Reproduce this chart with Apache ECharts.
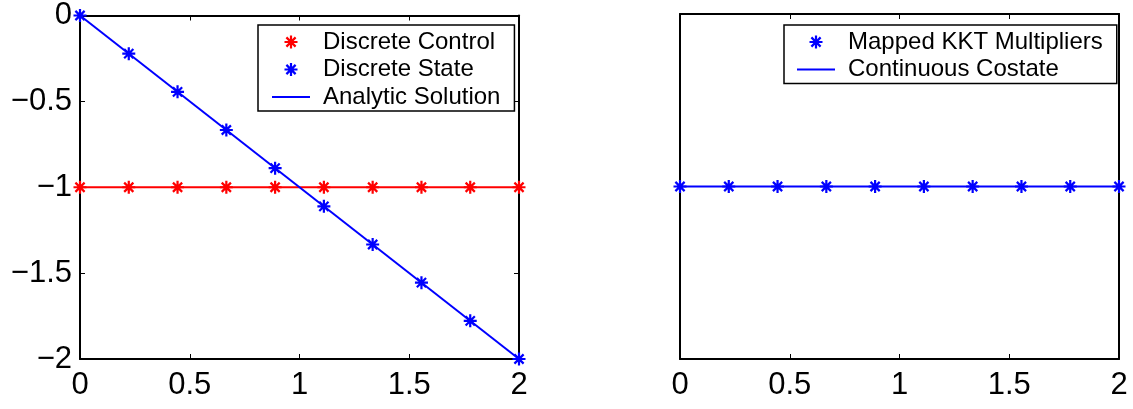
<!DOCTYPE html>
<html>
<head>
<meta charset="utf-8">
<script src="https://cdn.jsdelivr.net/npm/echarts@6/dist/echarts.min.js"></script>
<style>
html, body { margin: 0; padding: 0; background: #fff; }
#chart { width: 1133px; height: 409px; }
</style>
</head>
<body>
<div id="chart"></div>
<script>
// grid points (10 nodes on [0, 2])
var nodes = [0, 0.2222, 0.4444, 0.6667, 0.8889, 1.1111, 1.3333, 1.5556, 1.7778, 2];
var controlVals = [-1, -1, -1, -1, -1, -1, -1, -1, -1, -1];
var stateVals = [0, -0.2222, -0.4444, -0.6667, -0.8889, -1.1111, -1.3333, -1.5556, -1.7778, -2];
var analyticX = [0, 2];
var analyticVals = [0, -2];
var kktVals = [-1, -1, -1, -1, -1, -1, -1, -1, -1, -1];
var costateX = [0, 2];
var costateVals = [-1, -1];
var xTicks = [0, 0.5, 1, 1.5, 2];
var yTicks = [-2, -1.5, -1, -0.5, 0];

function pairs(xs, ys) {
    return xs.map(function (x, i) { return [x, ys[i]]; });
}

var FONT = 'Liberation Sans, Arial, Helvetica, sans-serif';
// matlab style '*' marker
var STAR = 'path://M-0.85,-5L0.85,-5L0.85,5L-0.85,5Z' +
    'M-5,-0.85L5,-0.85L5,0.85L-5,0.85Z' +
    'M-2.93,-4.14L4.14,2.93L2.93,4.14L-4.14,-2.93Z' +
    'M-4.14,2.93L2.93,-4.14L4.14,-2.93L-2.93,4.14Z';
var LINE_ICON = 'path://M0,0H38V2H0Z';

function minus(v) {
    return String(v).replace('-', '\u2212');
}

function xAx(grid, pos, labels) {
    return {
        type: 'value', gridIndex: grid, position: pos,
        min: xTicks[0], max: xTicks[xTicks.length - 1], interval: 0.5,
        axisLine: {show: true, onZero: false, lineStyle: {color: '#000', width: 2}},
        axisTick: {show: true, inside: true, length: 5, lineStyle: {color: '#000', width: 1}},
        axisLabel: {show: labels, color: '#000', fontSize: 31, fontFamily: FONT, margin: 11, formatter: minus},
        splitLine: {show: false}
    };
}

function yAx(grid, pos, labels, ticks) {
    return {
        type: 'value', gridIndex: grid, position: pos,
        min: yTicks[0], max: yTicks[yTicks.length - 1], interval: 0.5,
        axisLine: {show: true, onZero: false, lineStyle: {color: '#000', width: 2}},
        axisTick: {show: ticks, inside: true, length: 5, lineStyle: {color: '#000', width: 1}},
        axisLabel: {show: labels, color: '#000', fontSize: 31, fontFamily: FONT, margin: 8, formatter: minus},
        splitLine: {show: false}
    };
}

var legendText = {color: '#000', fontSize: 24, lineHeight: 24, fontFamily: FONT, padding: [0, 0, 0, 8]};

var chart = echarts.init(document.getElementById('chart'));
chart.setOption({
    animation: false,
    backgroundColor: '#fff',
    grid: [
        {left: 80, top: 14, width: 439, height: 345},
        {left: 680, top: 14, width: 439, height: 345}
    ],
    xAxis: [
        xAx(0, 'bottom', true),
        xAx(0, 'top', false),
        xAx(1, 'bottom', true),
        xAx(1, 'top', false)
    ],
    yAxis: [
        yAx(0, 'left', true, true),
        yAx(0, 'right', false, true),
        yAx(1, 'left', false, false),
        yAx(1, 'right', false, false)
    ],
    legend: [
        {
            orient: 'vertical', align: 'left', left: 258, top: 25,
            padding: [5, 14, 2, 14], itemGap: 3.5, itemWidth: 38, itemHeight: 13,
            borderColor: '#000', borderWidth: 1.5, backgroundColor: '#fff',
            textStyle: legendText, selectedMode: false,
            data: [
                {name: 'Discrete Control', icon: STAR},
                {name: 'Discrete State', icon: STAR},
                {name: 'Analytic Solution', icon: LINE_ICON}
            ]
        },
        {
            orient: 'vertical', align: 'left', left: 784, top: 25,
            padding: [5, 14, 2, 13], itemGap: 3.5, itemWidth: 38, itemHeight: 13,
            borderColor: '#000', borderWidth: 1.5, backgroundColor: '#fff',
            textStyle: legendText, selectedMode: false,
            data: [
                {name: 'Mapped KKT Multipliers', icon: STAR},
                {name: 'Continuous Costate', icon: LINE_ICON}
            ]
        }
    ],
    series: [
        {
            name: 'control line', type: 'line', xAxisIndex: 0, yAxisIndex: 0,
            data: pairs(nodes, controlVals), showSymbol: false, clip: false,
            lineStyle: {color: '#ff0000', width: 2}, itemStyle: {color: '#ff0000'}
        },
        {
            name: 'Discrete Control', type: 'scatter', xAxisIndex: 0, yAxisIndex: 0,
            data: pairs(nodes, controlVals), symbol: STAR, symbolSize: 13, clip: false,
            itemStyle: {color: '#ff0000', opacity: 1}
        },
        {
            name: 'Analytic Solution', type: 'line', xAxisIndex: 0, yAxisIndex: 0,
            data: pairs(analyticX, analyticVals), showSymbol: false, clip: false,
            lineStyle: {color: '#0000ff', width: 2}, itemStyle: {color: '#0000ff'}
        },
        {
            name: 'Discrete State', type: 'scatter', xAxisIndex: 0, yAxisIndex: 0,
            data: pairs(nodes, stateVals), symbol: STAR, symbolSize: 13, clip: false,
            itemStyle: {color: '#0000ff', opacity: 1}
        },
        {
            name: 'Continuous Costate', type: 'line', xAxisIndex: 2, yAxisIndex: 2,
            data: pairs(costateX, costateVals), showSymbol: false, clip: false,
            lineStyle: {color: '#0000ff', width: 2}, itemStyle: {color: '#0000ff'}
        },
        {
            name: 'Mapped KKT Multipliers', type: 'scatter', xAxisIndex: 2, yAxisIndex: 2,
            data: pairs(nodes, kktVals), symbol: STAR, symbolSize: 13, clip: false,
            itemStyle: {color: '#0000ff', opacity: 1}
        }
    ]
});
</script>
</body>
</html>
